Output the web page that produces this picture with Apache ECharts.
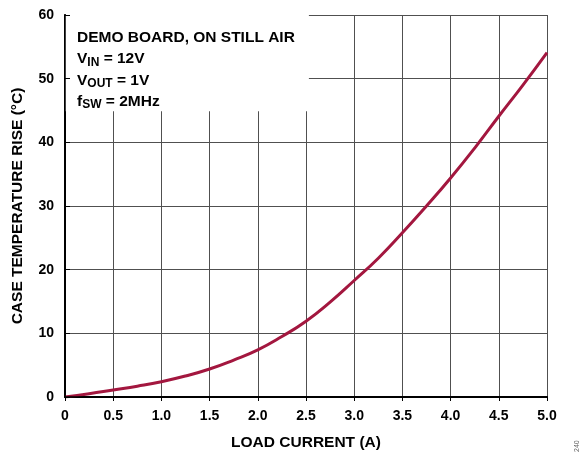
<!DOCTYPE html>
<html>
<head>
<meta charset="utf-8">
<script src="https://cdn.jsdelivr.net/npm/echarts@6/dist/echarts.min.js"></script>
<style>
html,body{margin:0;padding:0;background:#fff;}
#c{width:581px;height:456px;}
</style>
</head>
<body>
<div id="c"></div>
<script>
var loadCurrent = [0, 0.25, 0.5, 0.75, 1.0, 1.25, 1.5, 1.75, 2.0, 2.25, 2.5, 2.75, 3.0, 3.25, 3.5, 3.75, 4.0, 4.25, 4.5, 4.75, 5.0];
var tempRise    = [0, 0.5, 1.1, 1.7, 2.4, 3.3, 4.4, 5.8, 7.4, 9.5, 11.9, 14.9, 18.3, 21.8, 25.8, 30.0, 34.4, 39.1, 44.1, 49.0, 54.1];
var boxX = [0, 2.53];
var boxY = [44.9, 60];
var xTitle = 'LOAD CURRENT (A)';
var yTitle = 'CASE TEMPERATURE RISE (°C)';

var FONT = '"Liberation Sans", Arial, sans-serif';
var chart = echarts.init(document.getElementById('c'), null, {renderer: 'canvas'});
var pts = loadCurrent.map(function (x, i) { return [x, tempRise[i]]; });
var gridColor = '#505050';

chart.setOption({
  animation: false,
  backgroundColor: '#fff',
  grid: {left: 65, right: 34, top: 15, bottom: 55},
  title: {
    left: 77, top: 27, padding: 0,
    text: 'DEMO BOARD, ON STILL AIR\n{m|V}{s|IN}{m| = 12V}\n{m|V}{s|OUT}{m| = 1V}\n{m|f}{s|SW}{m| = 2MHz}',
    textStyle: {
      fontFamily: FONT, fontWeight: 'bold', fontSize: 15.5, color: '#000', lineHeight: 21.3,
      rich: {
        m: {fontFamily: FONT, fontWeight: 'bold', fontSize: 15.5, color: '#000', lineHeight: 21.3},
        s: {fontFamily: FONT, fontWeight: 'bold', fontSize: 12, color: '#000', lineHeight: 12, padding: [7, 0, 0, 0]}
      }
    }
  },
  graphic: [{
    type: 'text', right: 0, bottom: 4, rotation: Math.PI / 2,
    style: {text: '240', fontFamily: FONT, fontSize: 7, fill: '#666'}
  }],
  xAxis: [{
    type: 'value', position: 'bottom', min: 0, max: 5, interval: 0.5, z: 0,
    axisLine: {show: true, lineStyle: {color: '#000', width: 2}},
    axisTick: {show: false},
    splitLine: {show: true, lineStyle: {color: gridColor, width: 1}},
    axisLabel: {
      margin: 12, color: '#000', fontFamily: FONT, fontWeight: 'bold', fontSize: 14,
      formatter: function (v) { return v === 0 ? '0' : v.toFixed(1); }
    },
    name: xTitle, nameLocation: 'middle', nameGap: 38,
    nameTextStyle: {color: '#000', fontFamily: FONT, fontWeight: 'bold', fontSize: 15.5}
  }, {
    type: 'value', position: 'top', min: 0, max: 5, interval: 0.5, z: 5,
    axisLine: {show: true, lineStyle: {color: '#000', width: 1.5}},
    axisTick: {show: true, inside: true, length: 4, lineStyle: {color: '#000'}},
    splitLine: {show: false},
    axisLabel: {show: false}
  }],
  yAxis: [{
    type: 'value', position: 'left', min: 0, max: 60, interval: 10, z: 5,
    axisLine: {show: true, lineStyle: {color: '#000', width: 1.5}},
    axisTick: {show: true, inside: true, length: 5, lineStyle: {color: '#000'}},
    splitLine: {show: false},
    axisLabel: {margin: 11, padding: [0, 0, 5, 0], color: '#000', fontFamily: FONT, fontWeight: 'bold', fontSize: 14},
    name: yTitle, nameLocation: 'middle', nameGap: 39,
    nameTextStyle: {color: '#000', fontFamily: FONT, fontWeight: 'bold', fontSize: 15.5}
  }, {
    type: 'value', position: 'right', min: 0, max: 60, interval: 10, z: 0,
    axisLine: {show: true, lineStyle: {color: '#000', width: 2}},
    axisTick: {show: false},
    splitLine: {show: true, lineStyle: {color: gridColor, width: 1}},
    axisLabel: {show: false}
  }],
  series: [{
    type: 'line', xAxisIndex: 0, yAxisIndex: 0, data: pts,
    smooth: true, showSymbol: false, symbol: 'none',
    lineStyle: {color: '#A3173F', width: 3},
    markArea: {
      silent: true,
      itemStyle: {color: '#fff', opacity: 1},
      data: [[{coord: [boxX[0], boxY[0]]}, {coord: [boxX[1], boxY[1]]}]]
    }
  }]
});
</script>
</body>
</html>
